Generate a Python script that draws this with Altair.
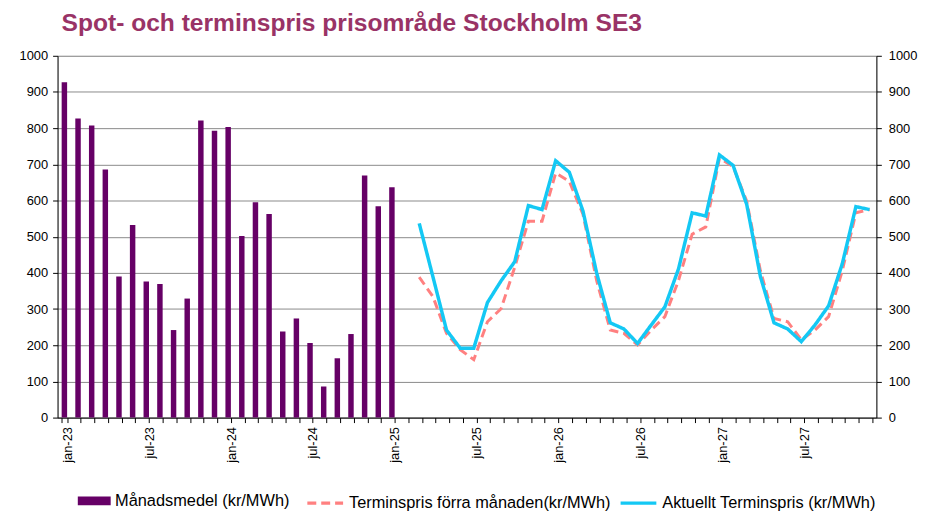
import altair as alt
import pandas as pd

# ---- data ----
month_names = ["jan", "feb", "mar", "apr", "maj", "jun", "jul", "aug", "sep", "okt", "nov", "dec"]
years = ["23", "24", "25", "26", "27"]
months = [f"{m}-{y}" for y in years for m in month_names]

spot_months = months[0:25]          # jan-23 .. jan-25
spot = [927, 827, 807, 686, 390, 532, 376, 369, 242, 329, 821, 793,
        803, 502, 595, 563, 238, 274, 206, 86, 164, 231, 669, 584, 637]

fwd_months = months[26:60]          # mar-25 .. dec-27
fwd_prev = [388, 335, 233, 188, 160, 265, 301, 416, 543, 543,
            676, 653, 562, 379, 242, 233, 201, 242, 279, 379, 507, 527,
            717, 694, 598, 406, 274, 265, 215, 242, 279, 406, 566, 575]
fwd_now = [537, 390, 242, 192, 192, 318, 378, 431, 586, 575,
           710, 678, 571, 400, 262, 245, 205, 256, 306, 411, 566, 557,
           726, 697, 589, 390, 262, 245, 210, 256, 309, 425, 583, 575]

name_spot = "Månadsmedel (kr/MWh)"
name_prev = "Terminspris förra månaden(kr/MWh)"
name_now = "Aktuellt Terminspris (kr/MWh)"
title = "Spot- och terminspris prisområde Stockholm SE3"

df_spot = pd.DataFrame({"month": spot_months, "value": spot})
df_prev = pd.DataFrame({"month": fwd_months, "value": fwd_prev})
df_now = pd.DataFrame({"month": fwd_months, "value": fwd_now})

FONT = "Liberation Sans"
PURPLE = "#660066"
RED = "#FF8080"
BLUE = "#14C8F4"

xenc = alt.X(
    "month:N",
    sort=months,
    scale=alt.Scale(domain=months, paddingInner=0.6, paddingOuter=0.3),
    axis=alt.Axis(
        title=None, labelAngle=-90, tickBand="extent", tickSize=5,
        labelPadding=4, labelOffset=3, labelFontSize=13, labelFont=FONT,
        labelColor="#000000", domainColor="#000000", tickColor="#000000",
        labelExpr="(slice(datum.label,0,3)=='jan' || slice(datum.label,0,3)=='jul') ? datum.label : ''",
        grid=False,
    ),
)

ydom = alt.Scale(domain=[0, 1000], nice=False)
yvals = list(range(0, 1001, 100))

bars = alt.Chart(df_spot).mark_bar().encode(
    x=xenc,
    y=alt.Y("value:Q", scale=ydom, axis=alt.Axis(
        title=None, values=yvals, format="d", grid=True, gridColor="#8a8a8a", gridWidth=1,
        tickSize=5, labelPadding=5, labelFontSize=13, labelFont=FONT,
        labelColor="#000000", domainColor="#000000", tickColor="#000000")),
    fill=alt.Fill("s:N", scale=alt.Scale(domain=[name_spot], range=[PURPLE]),
                  legend=alt.Legend(
                      title=None, orient="none", legendX=20, legendY=432,
                      symbolType="M-1,-0.26L1,-0.26L1,0.26L-1,0.26Z", symbolSize=1100,
                      symbolStrokeWidth=0, labelFontSize=16.5, labelFont=FONT,
                      labelLimit=500, labelColor="#000000", labelOffset=4, padding=0)),
).transform_calculate(s=f"'{name_spot}'")

line_scale_color = alt.Scale(domain=[name_prev, name_now], range=[RED, BLUE])
line_scale_dash = alt.Scale(domain=[name_prev, name_now], range=[[9, 5], [1, 0]])
line_legend = alt.Legend(
    title=None, orient="none", legendX=250, legendY=431, direction="horizontal",
    columns=2, columnPadding=1, symbolType="stroke", symbolSize=1300,
    symbolStrokeWidth=3.5, labelFontSize=16.5, labelFont=FONT, labelLimit=500,
    labelColor="#000000", labelOffset=4, padding=0)

yright = alt.Y("value:Q", scale=ydom, axis=alt.Axis(
    title=None, orient="right", values=yvals, format="d", grid=False,
    tickSize=5, labelPadding=7, labelFontSize=13, labelFont=FONT,
    labelColor="#000000", domainColor="#000000", tickColor="#000000"))

prev_line = alt.Chart(df_prev).mark_line(strokeWidth=3).encode(
    x=xenc, y=yright,
    color=alt.Color("s:N", scale=line_scale_color, legend=line_legend),
    strokeDash=alt.StrokeDash("s:N", scale=line_scale_dash, legend=line_legend),
).transform_calculate(s=f"'{name_prev}'")

now_line = alt.Chart(df_now).mark_line(strokeWidth=3.5).encode(
    x=xenc, y=yright,
    color=alt.Color("s:N", scale=line_scale_color, legend=line_legend),
    strokeDash=alt.StrokeDash("s:N", scale=line_scale_dash, legend=line_legend),
).transform_calculate(s=f"'{name_now}'")

lines = alt.layer(prev_line, now_line)

chart = alt.layer(bars, lines).resolve_scale(y="independent").properties(
    width=826,
    height=365,
    autosize=alt.AutoSizeParams(type="none"),
    padding={"left": 50, "top": 46, "right": 44, "bottom": 92},
    title=alt.TitleParams(
        text=title, anchor="start", frame="group", fontSize=24.8, font=FONT,
        fontWeight="bold", color="#993366", dx=4, offset=14),
).configure_view(stroke=None).configure(background="white")

chart.save("out.html", embed_options={"renderer": "svg", "actions": False})
